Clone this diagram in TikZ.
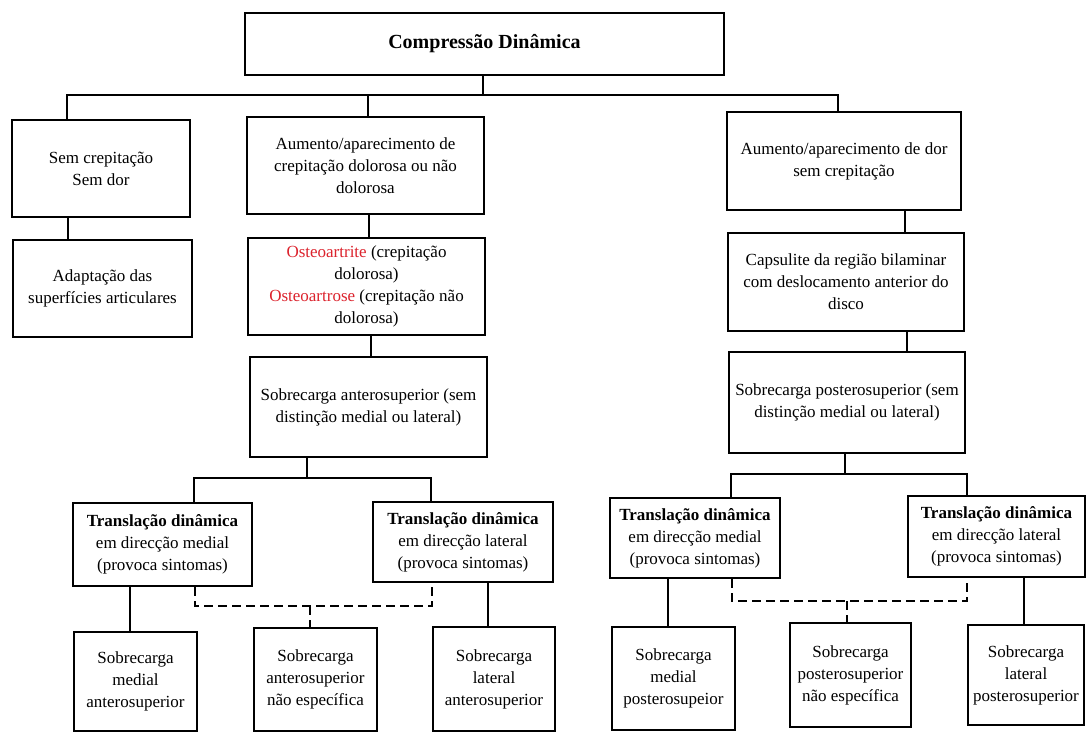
\documentclass[tikz,border=0pt]{standalone}
\usepackage{fontspec}
\setmainfont{Liberation Serif}
\definecolor{osred}{RGB}{220,35,45}
\newcommand{\mybox}[6]{\node[box,minimum width={#3-#2},minimum height={#5-#4}] (#1) at ({(#2+#3)/2},{(#4+#5)/2}) {#6};}
\begin{document}
\begin{tikzpicture}[x=1pt,y=-1pt,
  box/.style={draw,line width=2.9pt,rectangle,inner sep=0pt,align=center,font=\fontsize{17}{22}\selectfont},
  conn/.style={line width=2.9pt},
  dconn/.style={line width=2.9pt,dash pattern=on 9pt off 5pt}]
\useasboundingbox[fill=white] (0,0) rectangle (1087,734);

% top
\mybox{top}{245}{724}{13}{75}{\fontsize{20}{24}\selectfont\bfseries Compressão Dinâmica}
% level 1
\mybox{b1}{12}{190}{120}{217}{Sem crepitação\\Sem dor}
\mybox{b2}{247}{484}{117}{214}{Aumento/aparecimento de\\crepitação dolorosa ou não\\dolorosa}
\mybox{b3}{727}{961}{112}{210}{Aumento/aparecimento de dor\\sem crepitação}
% level 2
\mybox{b4}{13}{192}{240}{337}{Adaptação das\\superfícies articulares}
\mybox{b5}{248}{485}{238}{335}{\textcolor{osred}{Osteoartrite} (crepitação\\dolorosa)\\\textcolor{osred}{Osteoartrose} (crepitação não\\dolorosa)}
\mybox{b6}{728}{964}{233}{331}{Capsulite da região bilaminar\\com deslocamento anterior do\\disco}
% level 3
\mybox{b7}{250}{487}{357}{457}{Sobrecarga anterosuperior (sem\\distinção medial ou lateral)}
\mybox{b8}{729}{965}{352}{453}{Sobrecarga posterosuperior (sem\\distinção medial ou lateral)}
% level 4
\mybox{b9}{73}{252}{503}{586}{\textbf{Translação dinâmica}\\em direcção medial\\(provoca sintomas)}
\mybox{b10}{373}{553}{502}{582}{\textbf{Translação dinâmica}\\em direcção lateral\\(provoca sintomas)}
\mybox{b14}{610}{780}{498}{578}{\textbf{Translação dinâmica}\\em direcção medial\\(provoca sintomas)}
\mybox{b15}{908}{1085}{496}{577}{\textbf{Translação dinâmica}\\em direcção lateral\\(provoca sintomas)}
% level 5
\mybox{b11}{74}{197}{632}{731}{Sobrecarga\\medial\\anterosuperior}
\mybox{b12}{254}{377}{628}{731}{Sobrecarga\\anterosuperior\\não específica}
\mybox{b13}{433}{555}{627}{731}{Sobrecarga\\lateral\\anterosuperior}
\mybox{b16}{612}{735}{627}{730}{Sobrecarga\\medial\\posterosupeior}
\mybox{b17}{790}{911}{623}{727}{Sobrecarga\\posterosuperior\\não específica}
\mybox{b18}{968}{1084}{625}{725}{Sobrecarga\\lateral\\posterosuperior}

% connectors: top level
\coordinate (tl) at (67,95);
\coordinate (tr) at (838,95);
\coordinate (tm) at (483,95);
\coordinate (t2) at (368,95);
\draw[conn] (top.south -| tm) -- (tm);
\draw[conn] (b1.north -| tl) -- (tl) -- (tr) -- (b3.north -| tr);
\draw[conn] (t2) -- (b2.north -| t2);

% vertical chains
\coordinate (c1) at (68,0);
\draw[conn] (b1.south -| c1) -- (b4.north -| c1);
\coordinate (c2) at (369,0);
\draw[conn] (b2.south -| c2) -- (b5.north -| c2);
\coordinate (c3) at (371,0);
\draw[conn] (b5.south -| c3) -- (b7.north -| c3);
\coordinate (c4) at (905,0);
\draw[conn] (b3.south -| c4) -- (b6.north -| c4);
\coordinate (c5) at (907,0);
\draw[conn] (b6.south -| c5) -- (b8.north -| c5);

% left lower tree
\coordinate (la) at (194,478);
\coordinate (ra) at (431,478);
\coordinate (sa) at (307,478);
\draw[conn] (b7.south -| sa) -- (sa);
\draw[conn] (b9.north -| la) -- (la) -- (ra) -- (b10.north -| ra);
\coordinate (ma) at (130,0);
\draw[conn] (b9.south -| ma) -- (b11.north -| ma);
\coordinate (na) at (488,0);
\draw[conn] (b10.south -| na) -- (b13.north -| na);
\coordinate (da) at (195,606);
\coordinate (ea) at (432,606);
\coordinate (ta) at (310,606);
\draw[dconn] (b9.south -| da) -- (da) -- (ea) -- (b10.south -| ea);
\draw[dconn] (ta) -- (b12.north -| ta);

% right lower tree
\coordinate (lb) at (731,474);
\coordinate (rb) at (967,474);
\coordinate (sb) at (845,474);
\draw[conn] (b8.south -| sb) -- (sb);
\draw[conn] (b14.north -| lb) -- (lb) -- (rb) -- (b15.north -| rb);
\coordinate (mb) at (668,0);
\draw[conn] (b14.south -| mb) -- (b16.north -| mb);
\coordinate (nb) at (1024,0);
\draw[conn] (b15.south -| nb) -- (b18.north -| nb);
\coordinate (db) at (732,601);
\coordinate (eb) at (967,601);
\coordinate (tb) at (847,601);
\draw[dconn] (b14.south -| db) -- (db) -- (eb) -- (b15.south -| eb);
\draw[dconn] (tb) -- (b17.north -| tb);
\end{tikzpicture}
\end{document}
